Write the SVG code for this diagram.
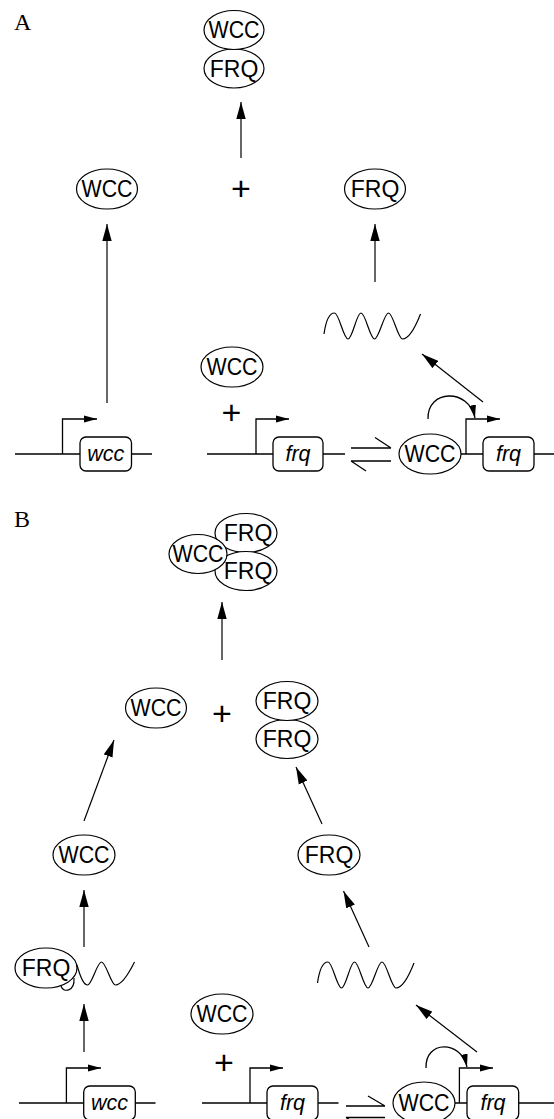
<svg xmlns="http://www.w3.org/2000/svg" width="554" height="1119" viewBox="0 0 554 1119">
<defs>
<marker id="ah" markerUnits="userSpaceOnUse" markerWidth="18" markerHeight="10" refX="17" refY="5" orient="auto"><path d="M0,0.3 L17,5 L0,9.7 z" fill="#000"/></marker>
<marker id="ph" markerUnits="userSpaceOnUse" markerWidth="14" markerHeight="8" refX="13" refY="4" orient="auto"><path d="M0,0.5 L13,4 L0,7.5 z" fill="#000"/></marker>
<path id="waveA" d="M324,334 C326,320 330,313 334.5,313 C339,313 343.5,339 348,339 C352.5,339 356.5,313 361,313 C365.5,313 370,339 374.5,339 C379,339 384,313 388.5,313 C393,313 398,339 402.5,339 C409,339 415,328 420.5,314"/>
</defs>
<style>
.e{fill:#fff;stroke:#000;stroke-width:1.2}
.t{font-family:"Liberation Sans",Arial,sans-serif;font-size:23px;text-anchor:middle;fill:#000}
.gi{font-family:"Liberation Sans",Arial,sans-serif;font-size:21.5px;font-style:italic;text-anchor:middle;fill:#000}
.p{font-family:"Liberation Sans",Arial,sans-serif;font-size:34px;text-anchor:middle;fill:#000}
.lab{font-family:"Liberation Serif","Times New Roman",serif;font-size:24px;fill:#000}
.a{fill:none;stroke:#000;stroke-width:1.2;marker-end:url(#ah)}
.pr{fill:none;stroke:#000;stroke-width:1.3;marker-end:url(#ph)}
.gl{fill:none;stroke:#000;stroke-width:1.5}
.bx{fill:#fff;stroke:#000;stroke-width:1.3}
.w{fill:none;stroke:#000;stroke-width:1.2}
</style>
<rect width="554" height="1119" fill="#fff"/>

<!-- Panel A -->
<text id="A-label" class="lab" x="14" y="30">A</text>

<g id="A-complex">
<ellipse class="e" cx="234" cy="68.5" rx="30" ry="19.5"/>
<text class="t" x="234" y="76.7">FRQ</text>
<ellipse class="e" cx="234" cy="30" rx="30" ry="19.5"/>
<text class="t" x="234" y="38.2" textLength="51" lengthAdjust="spacingAndGlyphs">WCC</text>
</g>
<g id="A-plus-top"><text class="p" x="241" y="200">+</text></g>
<g id="A-wcc"><ellipse class="e" cx="107" cy="189" rx="30.5" ry="20"/><text class="t" x="107" y="197.2" textLength="51" lengthAdjust="spacingAndGlyphs">WCC</text></g>
<g id="A-frq"><ellipse class="e" cx="375" cy="189" rx="30.5" ry="20"/><text class="t" x="375" y="197.2">FRQ</text></g>
<g id="A-mrna"><use href="#waveA" class="w"/></g>
<g id="A-wcc-free"><ellipse class="e" cx="232" cy="367" rx="31" ry="20"/><text class="t" x="232" y="375.2" textLength="51" lengthAdjust="spacingAndGlyphs">WCC</text></g>
<g id="A-plus-bottom"><text class="p" x="231.5" y="424">+</text></g>

<g id="A-wcc-gene">
<line class="gl" x1="15" y1="454" x2="152" y2="454"/>
<path class="pr" d="M62.5,454 V419 H97"/>
<rect class="bx" x="80" y="437" width="51.5" height="34" rx="6"/>
<text class="gi" x="105.7" y="461">wcc</text>
</g>
<g id="A-frq-gene">
<line class="gl" x1="207" y1="454" x2="345" y2="454"/>
<path class="pr" d="M256,454 V419 H289"/>
<rect class="bx" x="273" y="437" width="50" height="34" rx="6"/>
<text class="gi" x="298" y="461">frq</text>
</g>
<g id="A-equilibrium" fill="none" stroke="#000" stroke-width="1.3">
<path d="M351,448 H391 M375,437.5 L391,448"/>
<path d="M351,461 H391 M351,461 L366,471"/>
</g>
<g id="A-bound-gene">
<line class="gl" x1="440" y1="454" x2="554" y2="454"/>
<path class="pr" d="M466,454 V419 H500"/>
<ellipse class="e" cx="430" cy="454" rx="31" ry="20"/>
<text class="t" x="430" y="462.2" textLength="51" lengthAdjust="spacingAndGlyphs">WCC</text>
<rect class="bx" x="483" y="437" width="51" height="34" rx="6"/>
<text class="gi" x="508.5" y="461">frq</text>
</g>

<!-- Panel B -->
<text id="B-label" class="lab" x="14" y="527">B</text>

<g id="B-complex">
<ellipse class="e" cx="246" cy="533" rx="31" ry="19.5"/>
<text class="t" x="248" y="541.2">FRQ</text>
<ellipse class="e" cx="246" cy="571" rx="31" ry="19.5"/>
<text class="t" x="248" y="579.2">FRQ</text>
<ellipse class="e" cx="198" cy="554" rx="29" ry="19.5"/>
<text class="t" x="198" y="562.2" textLength="51" lengthAdjust="spacingAndGlyphs">WCC</text>
</g>
<g id="B-wcc-mid"><ellipse class="e" cx="156" cy="708" rx="30.5" ry="20"/><text class="t" x="156" y="716.2" textLength="51" lengthAdjust="spacingAndGlyphs">WCC</text></g>
<g id="B-plus-top"><text class="p" x="222" y="725">+</text></g>
<g id="B-frq-dimer">
<ellipse class="e" cx="287" cy="739" rx="31" ry="19.5"/>
<text class="t" x="287" y="747.2">FRQ</text>
<ellipse class="e" cx="287" cy="701" rx="31" ry="19.5"/>
<text class="t" x="287" y="709.2">FRQ</text>
</g>
<g id="B-wcc-low"><ellipse class="e" cx="84" cy="855" rx="31" ry="20"/><text class="t" x="84" y="863.2" textLength="51" lengthAdjust="spacingAndGlyphs">WCC</text></g>
<g id="B-frq-low"><ellipse class="e" cx="329" cy="855" rx="31" ry="20"/><text class="t" x="329" y="863.2">FRQ</text></g>
<g id="B-frq-mrna">
<path class="w" d="M61,986 C63,993 75,992 74,978"/>
<ellipse class="e" cx="46" cy="968" rx="31" ry="20"/>
<text class="t" x="46" y="976.2">FRQ</text>
<path class="w" d="M77,965 C80,976 83.5,985 87.5,985 C92,985 97,962 101.5,962 C106,962 111,985 115.5,985 C121.5,985 128,975 134.5,962"/>
</g>
<g id="B-mrna"><use href="#waveA" class="w" transform="translate(-6.5,649)"/></g>
<g id="B-wcc-free"><ellipse class="e" cx="222" cy="1014" rx="31" ry="20"/><text class="t" x="222" y="1022.2" textLength="51" lengthAdjust="spacingAndGlyphs">WCC</text></g>
<g id="B-plus-bottom"><text class="p" x="224" y="1074">+</text></g>

<g id="B-wcc-gene">
<line class="gl" x1="19" y1="1103" x2="155.5" y2="1103"/>
<path class="pr" d="M66.4,1103 V1068 H101"/>
<rect class="bx" x="83.7" y="1086" width="51.6" height="34" rx="6"/>
<text class="gi" x="109.5" y="1110">wcc</text>
</g>
<g id="B-frq-gene">
<line class="gl" x1="202" y1="1103" x2="338.5" y2="1103"/>
<path class="pr" d="M250,1103 V1068 H283"/>
<rect class="bx" x="267" y="1086" width="51" height="34" rx="6"/>
<text class="gi" x="292.5" y="1110">frq</text>
</g>
<g id="B-equilibrium" fill="none" stroke="#000" stroke-width="1.3">
<path d="M346,1106 H385 M368,1096 L385,1106"/>
<path d="M346,1117.5 H385 M346,1117.5 L361,1127"/>
</g>
<g id="B-bound-gene">
<line class="gl" x1="434" y1="1103" x2="554" y2="1103"/>
<path class="pr" d="M459.4,1103 V1068 H493"/>
<ellipse class="e" cx="424" cy="1103" rx="31" ry="21"/>
<text class="t" x="424" y="1111.2" textLength="51" lengthAdjust="spacingAndGlyphs">WCC</text>
<rect class="bx" x="467" y="1086" width="51.7" height="34" rx="6"/>
<text class="gi" x="493" y="1110">frq</text>
</g>

<g id="connectors">
<path class="a" d="M241,158 L241,102"/>
<path class="a" d="M107,403 L107,224"/>
<path class="a" d="M375,282 L375,224"/>
<path class="a" d="M483,402 L422,354"/>
<path class="pr" d="M428,419 C427,389 469,388 475,418"/>
<path class="a" d="M222,660 L222,602"/>
<path class="a" d="M84,821 L114,740"/>
<path class="a" d="M322,824 L296,767"/>
<path class="a" d="M84,947 L84,890"/>
<path class="a" d="M369,947 L343.5,891"/>
<path class="a" d="M84,1052 L84,1004"/>
<path class="a" d="M477,1052 L416,1005"/>
<path class="pr" d="M426,1068 C425,1040 461,1040 467,1067"/>
</g>
</svg>
